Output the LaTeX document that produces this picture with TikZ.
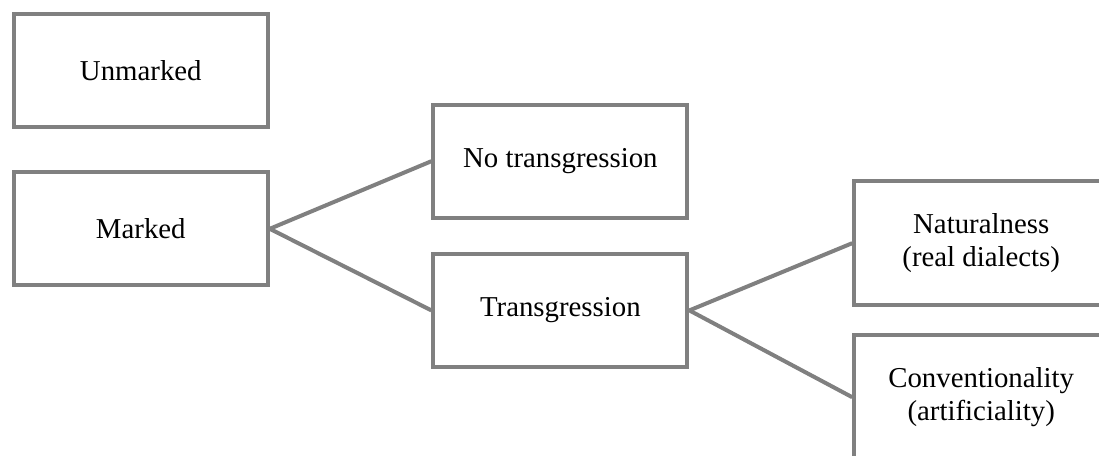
\documentclass[tikz,border=0pt]{standalone}
\usepackage{fontspec}
\setmainfont{Liberation Serif}
\definecolor{boxgray}{RGB}{128,128,128}

\begin{document}
\begin{tikzpicture}[
  box/.style={draw=boxgray,line width=0.1cm,fill=white,minimum width=6.35cm,minimum height=2.825cm,align=center,font=\fontsize{20.5}{23}\selectfont},
  tallbox/.style={box,minimum height=3.1cm},
  link/.style={boxgray,line width=0.1cm}]

\useasboundingbox (0,0) rectangle (27.475,-11.4);
\clip (0,0) rectangle (27.475,-11.4);

\node[box] (unmarked) at (3.52,-1.77) {Unmarked};
\node[box] (marked) at (3.52,-5.72) {Marked};

\node[box] (notrans) at (14.01,-4.03) {No transgression};
\node[box] (trans) at (14.01,-7.76) {Transgression};

\node[tallbox] (natural) at (24.53,-6.08) {Naturalness\\(real dialects)};
\node[tallbox] (convent) at (24.53,-9.93) {Conventionality\\(artificiality)};

\draw[link] (marked.east) -- (notrans.west);
\draw[link] (marked.east) -- (trans.west);
\draw[link] (trans.east) -- (natural.west);
\draw[link] (trans.east) -- (convent.west);

\end{tikzpicture}
\end{document}
